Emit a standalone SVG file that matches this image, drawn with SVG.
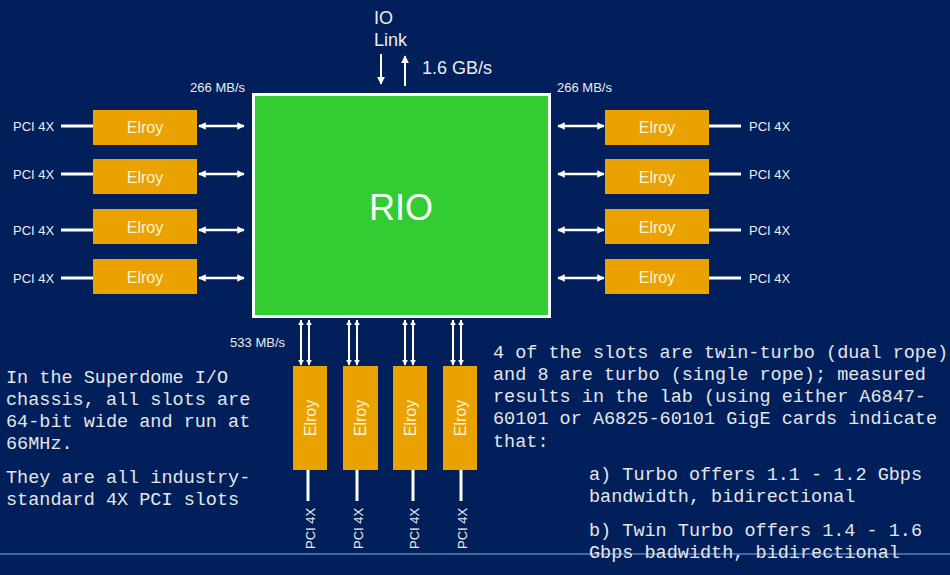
<svg xmlns="http://www.w3.org/2000/svg" width="950" height="575" viewBox="0 0 950 575">
<defs>
<marker id="ah" viewBox="0 0 10 10" refX="9" refY="5" markerWidth="3" markerHeight="3" orient="auto-start-reverse" markerUnits="strokeWidth">
<path d="M0,0 L10,5 L0,10 z" fill="#ffffff"/>
</marker>
<marker id="ahb" viewBox="0 0 10 10" refX="9" refY="5" markerWidth="4" markerHeight="5" orient="auto-start-reverse" markerUnits="strokeWidth">
<path d="M0,0 L10,5 L0,10 z" fill="#ffffff"/>
</marker>
<style>
.bg{fill:#001f5b}
.elroy{fill:#e9a200}
.elt{font-family:"Liberation Sans",Arial,sans-serif;font-size:16px;fill:#fff2d6;text-anchor:middle}
.lbl{font-family:"Liberation Sans",Arial,sans-serif;font-size:13px;fill:#ececec}
.big{font-family:"Liberation Sans",Arial,sans-serif;font-size:18px;fill:#ececec}
.mono{font-family:"Liberation Mono","Courier New",monospace;font-size:18.5px;fill:#e6e6e6}
.dbl{stroke:#ffffff;stroke-width:2.5;fill:none;marker-start:url(#ah);marker-end:url(#ah)}
.vdbl{stroke:#ffffff;stroke-width:2;fill:none;marker-start:url(#ah);marker-end:url(#ah)}
.ln{stroke:#ffffff;stroke-width:3;fill:none}
</style>
</defs>
<rect class="bg" x="0" y="0" width="950" height="575"/>
<line x1="0" y1="554" x2="950" y2="554" stroke="#3d68a3" stroke-width="2"/>

<g id="connectors">
<!-- IO link arrows -->
<line x1="381" y1="54" x2="381" y2="84" stroke="#fff" stroke-width="2" marker-end="url(#ahb)"/>
<line x1="405" y1="86" x2="405" y2="56" stroke="#fff" stroke-width="2" marker-end="url(#ahb)"/>
<!-- left double arrows -->
<line class="dbl" x1="199" y1="126" x2="244" y2="126"/>
<line class="dbl" x1="199" y1="174" x2="244" y2="174"/>
<line class="dbl" x1="199" y1="230" x2="244" y2="230"/>
<line class="dbl" x1="199" y1="278" x2="244" y2="278"/>
<!-- right double arrows -->
<line class="dbl" x1="558" y1="126" x2="604" y2="126"/>
<line class="dbl" x1="558" y1="174" x2="604" y2="174"/>
<line class="dbl" x1="558" y1="230" x2="604" y2="230"/>
<line class="dbl" x1="558" y1="278" x2="604" y2="278"/>
<!-- left PCI lines -->
<line class="ln" x1="61" y1="126" x2="94" y2="126"/>
<line class="ln" x1="61" y1="174" x2="94" y2="174"/>
<line class="ln" x1="61" y1="230" x2="94" y2="230"/>
<line class="ln" x1="61" y1="278" x2="94" y2="278"/>
<!-- right PCI lines -->
<line class="ln" x1="709" y1="126" x2="741" y2="126"/>
<line class="ln" x1="709" y1="174" x2="741" y2="174"/>
<line class="ln" x1="709" y1="230" x2="741" y2="230"/>
<line class="ln" x1="709" y1="278" x2="741" y2="278"/>
<!-- bottom vertical double arrows -->
<line class="vdbl" x1="301" y1="320" x2="301" y2="365"/>
<line class="vdbl" x1="309" y1="320" x2="309" y2="365"/>
<line class="vdbl" x1="349" y1="320" x2="349" y2="365"/>
<line class="vdbl" x1="357" y1="320" x2="357" y2="365"/>
<line class="vdbl" x1="405" y1="320" x2="405" y2="365"/>
<line class="vdbl" x1="413" y1="320" x2="413" y2="365"/>
<line class="vdbl" x1="453" y1="320" x2="453" y2="365"/>
<line class="vdbl" x1="461" y1="320" x2="461" y2="365"/>
<!-- bottom PCI lines -->
<line class="ln" x1="308" y1="470" x2="308" y2="501"/>
<line class="ln" x1="357" y1="470" x2="357" y2="501"/>
<line class="ln" x1="413" y1="470" x2="413" y2="501"/>
<line class="ln" x1="461" y1="470" x2="461" y2="501"/>
</g>

<g id="rio">
<rect x="253.5" y="94.5" width="296" height="222" fill="#33cc33" stroke="#ffffff" stroke-width="3"/>
<text x="401" y="220" font-family="Liberation Sans, Arial, sans-serif" font-size="36" fill="#ffffff" text-anchor="middle">RIO</text>
</g>

<g id="io-link">
<text class="big" x="374" y="24">IO</text>
<text class="big" x="374" y="46">Link</text>
<text class="big" x="422" y="74">1.6 GB/s</text>
</g>

<g id="bandwidth-labels">
<text class="lbl" x="245" y="92" text-anchor="end">266 MB/s</text>
<text class="lbl" x="557" y="92">266 MB/s</text>
<text class="lbl" x="285" y="347" text-anchor="end">533 MB/s</text>
</g>

<g id="elroy-l1"><rect class="elroy" x="93" y="110" width="104" height="35"/><text class="elt" x="145" y="133">Elroy</text><text class="lbl" x="13" y="131">PCI 4X</text></g>
<g id="elroy-l2"><rect class="elroy" x="93" y="159" width="104" height="35"/><text class="elt" x="145" y="183">Elroy</text><text class="lbl" x="13" y="179">PCI 4X</text></g>
<g id="elroy-l3"><rect class="elroy" x="93" y="209" width="104" height="35"/><text class="elt" x="145" y="233">Elroy</text><text class="lbl" x="13" y="235">PCI 4X</text></g>
<g id="elroy-l4"><rect class="elroy" x="93" y="259" width="104" height="35"/><text class="elt" x="145" y="283">Elroy</text><text class="lbl" x="13" y="283">PCI 4X</text></g>

<g id="elroy-r1"><rect class="elroy" x="605" y="110" width="104" height="35"/><text class="elt" x="657" y="133">Elroy</text><text class="lbl" x="749" y="131">PCI 4X</text></g>
<g id="elroy-r2"><rect class="elroy" x="605" y="159" width="104" height="35"/><text class="elt" x="657" y="183">Elroy</text><text class="lbl" x="749" y="179">PCI 4X</text></g>
<g id="elroy-r3"><rect class="elroy" x="605" y="209" width="104" height="35"/><text class="elt" x="657" y="233">Elroy</text><text class="lbl" x="749" y="235">PCI 4X</text></g>
<g id="elroy-r4"><rect class="elroy" x="605" y="259" width="104" height="35"/><text class="elt" x="657" y="283">Elroy</text><text class="lbl" x="749" y="283">PCI 4X</text></g>

<g id="elroy-b1"><rect class="elroy" x="293" y="366" width="34" height="104"/><text class="elt" transform="translate(316,418) rotate(-90)">Elroy</text><text class="lbl" transform="translate(315,549) rotate(-90)">PCI 4X</text></g>
<g id="elroy-b2"><rect class="elroy" x="343" y="366" width="35" height="104"/><text class="elt" transform="translate(366,418) rotate(-90)">Elroy</text><text class="lbl" transform="translate(363,549) rotate(-90)">PCI 4X</text></g>
<g id="elroy-b3"><rect class="elroy" x="393" y="366" width="34" height="104"/><text class="elt" transform="translate(416,418) rotate(-90)">Elroy</text><text class="lbl" transform="translate(419,549) rotate(-90)">PCI 4X</text></g>
<g id="elroy-b4"><rect class="elroy" x="443" y="366" width="34" height="104"/><text class="elt" transform="translate(466,418) rotate(-90)">Elroy</text><text class="lbl" transform="translate(467,549) rotate(-90)">PCI 4X</text></g>

<g id="note-left">
<text class="mono" x="6" y="383">In the Superdome I/O</text>
<text class="mono" x="6" y="405">chassis, all slots are</text>
<text class="mono" x="6" y="427">64-bit wide and run at</text>
<text class="mono" x="6" y="449">66MHz.</text>
<text class="mono" x="6" y="483">They are all industry-</text>
<text class="mono" x="6" y="505">standard 4X PCI slots</text>
</g>

<g id="note-right">
<text class="mono" x="493" y="358">4 of the slots are twin-turbo (dual rope)</text>
<text class="mono" x="493" y="380">and 8 are turbo (single rope); measured</text>
<text class="mono" x="493" y="402">results in the lab (using either A6847-</text>
<text class="mono" x="493" y="424">60101 or A6825-60101 GigE cards indicate</text>
<text class="mono" x="493" y="447">that:</text>
<text class="mono" x="589" y="480">a) Turbo offers 1.1 - 1.2 Gbps</text>
<text class="mono" x="589" y="502">bandwidth, bidirectional</text>
<text class="mono" x="589" y="536">b) Twin Turbo offers 1.4 - 1.6</text>
<text class="mono" x="589" y="558">Gbps badwidth, bidirectional</text>
</g>
</svg>
